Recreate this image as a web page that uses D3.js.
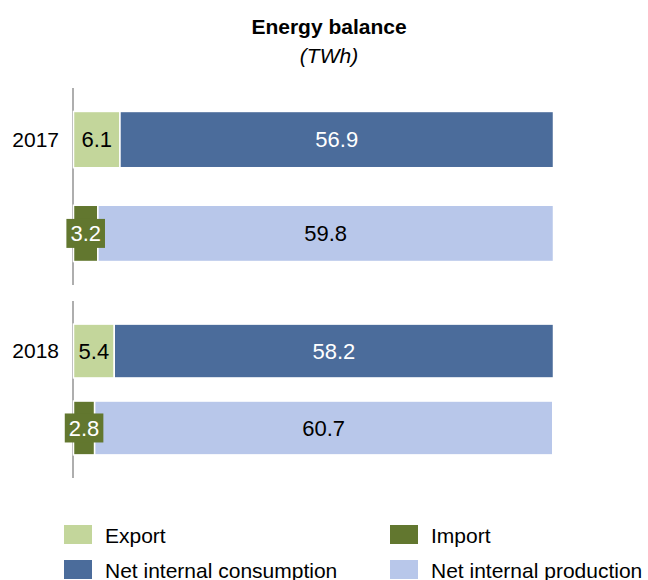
<!DOCTYPE html>
<html>
<head>
<meta charset="utf-8">
<script src="https://cdn.jsdelivr.net/npm/d3@7"></script>
<style>
  html, body { margin: 0; padding: 0; background: #fff; }
  svg { display: block; font-family: "Liberation Sans", Arial, sans-serif; }
</style>
</head>
<body>
<svg id="chart" width="648" height="580"></svg>
<script>
// ---- data ----
const years = ["2017", "2018"];
const exportVals = [6.1, 5.4];
const consumptionVals = [56.9, 58.2];
const importVals = [3.2, 2.8];
const productionVals = [59.8, 60.7];
const seriesNames = ["Export", "Import", "Net internal consumption", "Net internal production"];
const titleText = "Energy balance";
const subtitleText = "(TWh)";

// ---- styles ----
const colors = {
  "Export": "#c3d69b",
  "Import": "#62772f",
  "Net internal consumption": "#4b6c9b",
  "Net internal production": "#b8c7ea"
};
const labelColors = {
  "Export": "#000",
  "Import": "#fff",
  "Net internal consumption": "#fff",
  "Net internal production": "#000"
};

const svg = d3.select("#chart");
const FS = 21;

// title
svg.append("text").attr("x", 329).attr("y", 34).attr("text-anchor", "middle")
  .attr("font-weight", "bold").attr("font-size", 21).attr("fill", "#000").text(titleText);
svg.append("text").attr("x", 329).attr("y", 63).attr("text-anchor", "middle")
  .attr("font-style", "italic").attr("font-size", 21).attr("fill", "#000").text(subtitleText);

// group layout
const groups = [
  { y0: 88, y1: 285, pi: 0.4, po: 0.25 },
  { y0: 301, y1: 478, pi: 0.3, po: 0.3 }
];
const xLeft = 73.5, xRight = 553.5;

years.forEach((yr, i) => {
  const g = groups[i];
  const rows = [
    { key: "top", segs: [["Export", exportVals[i]], ["Net internal consumption", consumptionVals[i]]] },
    { key: "bottom", segs: [["Import", importVals[i]], ["Net internal production", productionVals[i]]] }
  ];
  const maxTotal = d3.max(rows, r => d3.sum(r.segs, s => s[1]));
  const x = d3.scaleLinear().domain([0, maxTotal]).range([xLeft, xRight]);
  const y = d3.scaleBand().domain(rows.map(r => r.key)).range([g.y0, g.y1])
    .paddingInner(g.pi).paddingOuter(g.po);

  const grp = svg.append("g");

  // axis line
  grp.append("line").attr("x1", xLeft - 0.5).attr("x2", xLeft - 0.5)
    .attr("y1", g.y0).attr("y2", g.y1)
    .attr("stroke", "#9a9a9a").attr("stroke-width", 1.6);

  // year label
  grp.append("text").attr("x", 59).attr("y", y("top") + y.bandwidth() / 2)
    .attr("dy", "0.35em").attr("text-anchor", "end")
    .attr("font-size", FS).attr("fill", "#000").text(yr);

  rows.forEach(r => {
    let cum = 0;
    const segs = r.segs.map(([name, v]) => {
      const s = { name, v, x0: cum, x1: cum + v };
      cum += v;
      return s;
    });
    grp.selectAll(null).data(segs).enter().append("rect")
      .attr("x", d => x(d.x0))
      .attr("y", y(r.key))
      .attr("width", d => x(d.x1) - x(d.x0))
      .attr("height", y.bandwidth())
      .attr("fill", d => colors[d.name])
      .attr("stroke", "#fff").attr("stroke-width", 1.5);

    segs.forEach(d => {
      const cx = (x(d.x0) + x(d.x1)) / 2;
      const cy = y(r.key) + y.bandwidth() / 2;
      const t = grp.append("text").attr("x", cx).attr("y", cy).attr("dy", "0.35em")
        .attr("text-anchor", "middle").attr("font-size", 22)
        .attr("fill", labelColors[d.name]).text(d3.format(".1f")(d.v));
      if (d.name === "Import") {
        const bb = t.node().getBBox();
        grp.insert("rect", () => t.node())
          .attr("x", bb.x - 4).attr("y", cy - 14.5)
          .attr("width", bb.width + 8).attr("height", 29)
          .attr("fill", colors[d.name]);
      }
    });
  });
});

// legend
const legendItems = [
  { name: "Export", sx: 64, sy: 525 },
  { name: "Import", sx: 390, sy: 525 },
  { name: "Net internal consumption", sx: 64, sy: 560 },
  { name: "Net internal production", sx: 390, sy: 560 }
];
const lg = svg.append("g");
lg.selectAll("rect").data(legendItems).enter().append("rect")
  .attr("x", d => d.sx).attr("y", d => d.sy).attr("width", 28).attr("height", 19)
  .attr("fill", d => colors[d.name]);
lg.selectAll("text").data(legendItems).enter().append("text")
  .attr("x", d => d.sx + 41).attr("y", d => d.sy + 18)
  .attr("font-size", FS).attr("fill", "#000").text(d => d.name);
</script>
</body>
</html>
